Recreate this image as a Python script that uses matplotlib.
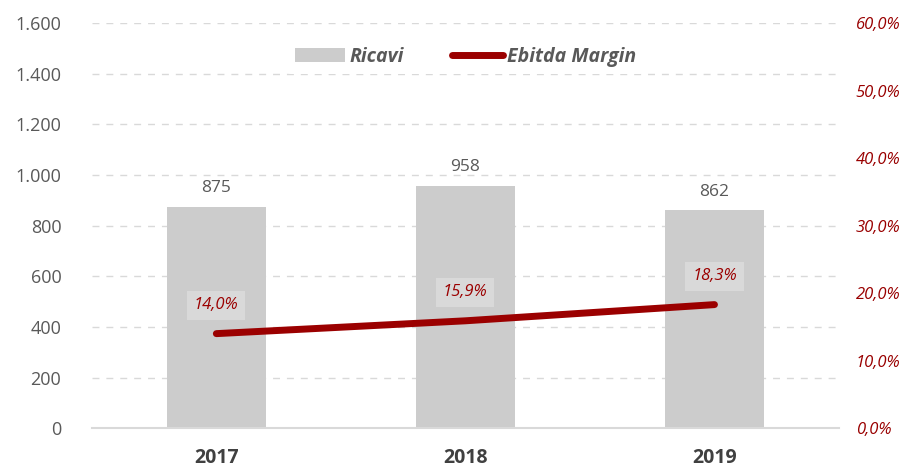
import matplotlib
matplotlib.use("Agg")
import matplotlib.pyplot as plt
from matplotlib.lines import Line2D
from matplotlib.patches import Patch

years = ["2017", "2018", "2019"]
ricavi = [875, 958, 862]
ebitda_margin = [14.0, 15.9, 18.3]
left_ticks = [0, 200, 400, 600, 800, 1000, 1200, 1400, 1600]
left_labels = ["0", "200", "400", "600", "800", "1.000", "1.200", "1.400", "1.600"]
right_ticks = [0, 10, 20, 30, 40, 50, 60]
right_labels = ["0,0%", "10,0%", "20,0%", "30,0%", "40,0%", "50,0%", "60,0%"]

plt.rcParams['font.family'] = ['Open Sans', 'DejaVu Sans']

fig = plt.figure(figsize=(9.09, 4.70), dpi=100)
ax = fig.add_axes([0.101, 0.089, 0.822, 0.862])
x = list(range(len(years)))
ax.bar(x, ricavi, width=0.40, color="#cccccc", zorder=2)
ax.set_xlim(-0.5, 2.5)
ax.set_ylim(0, 1600)
ax.set_yticks(left_ticks)
ax.set_yticklabels(left_labels, fontsize=13, color="#595959")
ax.set_xticks(x)
ax.set_xticklabels(years, fontsize=14, fontweight="bold", color="#404040")
ax.tick_params(axis="both", length=0)
ax.tick_params(axis="x", pad=14)
ax.tick_params(axis="y", pad=22)
ax.grid(axis="y", color="#d9d9d9", linestyle=(0, (5, 5)), linewidth=1, zorder=0)
for s in ["top", "right", "left"]:
    ax.spines[s].set_visible(False)
ax.spines["bottom"].set_color("#d9d9d9")
ax.spines["bottom"].set_linewidth(1.5)
for xi, v in zip(x, ricavi):
    ax.text(xi, v + 40, f"{v}", ha="center", va="bottom", fontsize=12.5, color="#595959")

ax2 = ax.twinx()
ax2.set_ylim(0, 60)
ax2.set_yticks(right_ticks)
ax2.set_yticklabels(right_labels, fontsize=12, color="#990000", fontstyle="italic")
ax2.tick_params(axis="y", length=0, pad=12)
for s in ["top", "right", "left", "bottom"]:
    ax2.spines[s].set_visible(False)
ax2.plot(x, ebitda_margin, color="#9b0000", linewidth=5, solid_capstyle="round", zorder=3)
for xi, v in zip(x, ebitda_margin):
    ax2.text(xi, v + 4.2, f"{v:.1f}".replace(".", ",") + "%", ha="center", va="center",
             fontsize=12, color="#9b0000", fontstyle="italic",
             bbox=dict(boxstyle="square,pad=0.4", facecolor="#d9d9d9", edgecolor="none"))

handles = [Patch(facecolor="#cccccc", edgecolor="none"),
           Line2D([0], [0], color="#9b0000", linewidth=5, solid_capstyle="round")]
leg = ax2.legend(handles, ["Ricavi", "Ebitda Margin"], loc="upper center",
                 bbox_to_anchor=(0.5, 0.985), ncol=2, frameon=True, framealpha=1,
                 edgecolor="none", facecolor="white",
                 handlelength=2.6, handletextpad=0.2, columnspacing=2.5,
                 prop={"weight": "bold", "style": "italic", "size": 14})
for t in leg.get_texts():
    t.set_color("#595959")
fig.savefig("out.png", dpi=100)
